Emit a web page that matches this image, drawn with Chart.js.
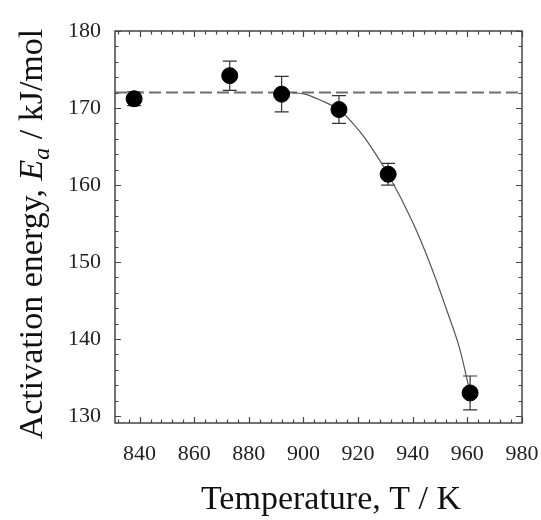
<!DOCTYPE html>
<html>
<head>
<meta charset="utf-8">
<script src="https://cdn.jsdelivr.net/npm/chart.js@4/dist/chart.umd.min.js"></script>
<style>
  html, body { margin: 0; padding: 0; background: #fff; }
  #wrap { width: 541px; height: 520px; }
</style>
</head>
<body>
<div id="wrap"><canvas id="eaChart" width="541" height="520"></canvas></div>
<script>
// measured points
const temps = [838, 873, 892, 913, 931, 961];
const energies = [171.2, 174.2, 171.8, 169.8, 161.4, 133.0];
const errors = [0.9, 1.9, 2.3, 1.8, 1.4, 2.2];

// plateau level (dashed)
const plateauT = [831, 980];
const plateauE = [172, 172];

// fitted curve
const fitT = [896, 900.5, 906.3, 913, 917.6, 922.5, 926.1, 931, 940.2, 946.3, 952.4, 957.3, 961];
const fitE = [172, 171.8, 171.0, 169.8, 168.2, 166.1, 164.2, 161.4, 155.0, 149.8, 143.8, 138.6, 133.0];

// tick labels
const xTicks = [840, 860, 880, 900, 920, 940, 960, 980];
const yTicks = [130, 140, 150, 160, 170, 180];

const serif = '"Liberation Serif", "Times New Roman", serif';
const axisGray = '#444';

const toXY = (xs, ys) => xs.map((x, i) => ({x: x, y: ys[i]}));

// error bars
const errorBars = {
  id: 'errorBars',
  beforeDatasetsDraw(chart) {
    const {ctx, scales: {x, y}} = chart;
    ctx.save();
    ctx.strokeStyle = '#333';
    ctx.lineWidth = 1.2;
    temps.forEach((t, i) => {
      const px = x.getPixelForValue(t);
      const top = y.getPixelForValue(energies[i] + errors[i]);
      const bot = y.getPixelForValue(energies[i] - errors[i]);
      ctx.beginPath();
      ctx.moveTo(px, top); ctx.lineTo(px, bot);
      ctx.moveTo(px - 7, top); ctx.lineTo(px + 7, top);
      ctx.moveTo(px - 7, bot); ctx.lineTo(px + 7, bot);
      ctx.stroke();
    });
    ctx.restore();
  }
};

// frame with inward ticks on every side, plus the axis titles
const frame = {
  id: 'frame',
  afterDraw(chart) {
    const {ctx, chartArea: a, scales: {x, y}} = chart;
    ctx.save();
    ctx.strokeStyle = axisGray;
    ctx.lineWidth = 1.5;
    ctx.strokeRect(a.left, a.top, a.right - a.left, a.bottom - a.top);

    ctx.lineWidth = 1.2;
    ctx.beginPath();
    const xStep = (xTicks[1] - xTicks[0]) / 5;
    for (let v = xTicks[0] - 2 * xStep; v <= xTicks[xTicks.length - 1] + 0.01; v += xStep) {
      if (v < x.min) continue;
      const major = Math.abs(((v - xTicks[0]) / (xStep * 5)) % 1) < 0.01;
      const len = major ? 6 : 3.5;
      const px = Math.round(x.getPixelForValue(v)) + 0.5;
      ctx.moveTo(px, a.bottom); ctx.lineTo(px, a.bottom - len);
      ctx.moveTo(px, a.top); ctx.lineTo(px, a.top + len);
    }
    const yStep = (yTicks[1] - yTicks[0]) / 5;
    for (let v = yTicks[0]; v <= yTicks[yTicks.length - 1] + 0.01; v += yStep) {
      const major = Math.abs(((v - yTicks[0]) / (yStep * 5)) % 1) < 0.01;
      const len = major ? 6 : 3.5;
      const py = Math.round(y.getPixelForValue(v)) + 0.5;
      ctx.moveTo(a.left, py); ctx.lineTo(a.left + len, py);
      ctx.moveTo(a.right, py); ctx.lineTo(a.right - len, py);
    }
    ctx.stroke();

    // x title
    ctx.fillStyle = '#111';
    ctx.font = '34px ' + serif;
    ctx.textAlign = 'center';
    ctx.textBaseline = 'middle';
    ctx.fillText('Temperature, T / K', 331, 500);

    // y title with italic E and subscript a
    const parts = [
      {t: 'Activation energy, ', f: '34px ' + serif, dy: 0},
      {t: 'E', f: 'italic 34px ' + serif, dy: 0},
      {t: 'a', f: 'italic 24px ' + serif, dy: 7},
      {t: ' / kJ/mol', f: '34px ' + serif, dy: 0}
    ];
    let total = 0;
    parts.forEach(p => { ctx.font = p.f; p.w = ctx.measureText(p.t).width; total += p.w; });
    ctx.translate(42, 234);
    ctx.rotate(-Math.PI / 2);
    ctx.textAlign = 'left';
    ctx.textBaseline = 'alphabetic';
    let cx = -total / 2;
    parts.forEach(p => {
      ctx.font = p.f;
      ctx.fillText(p.t, cx, p.dy);
      cx += p.w;
    });
    ctx.restore();
  }
};

const data = {
  datasets: [{
    label: 'Ea',
    data: toXY(temps, energies),
    showLine: false,
    pointRadius: 8,
    pointBackgroundColor: '#000',
    pointBorderColor: '#000',
    order: 0
  }, {
    label: 'plateau',
    data: toXY(plateauT, plateauE),
    showLine: true,
    borderColor: '#6e6e6e',
    borderWidth: 2,
    borderDash: [12, 5],
    pointRadius: 0,
    order: 2
  }, {
    label: 'fit',
    data: toXY(fitT, fitE),
    showLine: true,
    borderColor: '#555',
    borderWidth: 1.2,
    cubicInterpolationMode: 'monotone',
    pointRadius: 0,
    order: 1
  }]
};

const options = {
  type: 'scatter',
  data,
  options: {
    responsive: false,
    animation: false,
    events: [],
    layout: { padding: { left: 0, right: 19, top: 31, bottom: 0 } },
    plugins: {
      legend: { display: false },
      tooltip: { enabled: false }
    },
    scales: {
      x: {
        type: 'linear',
        min: 831,
        max: 980,
        afterBuildTicks: s => { s.ticks = xTicks.map(v => ({value: v})); },
        afterFit: s => { s.height = 97; s.paddingLeft = 0; s.paddingRight = 0; },
        grid: { display: false, drawTicks: false, tickLength: 0 },
        border: { display: false },
        ticks: { padding: 18, color: '#222', font: { family: serif, size: 22 } }
      },
      y: {
        type: 'linear',
        min: 129.1,
        max: 180,
        afterBuildTicks: s => { s.ticks = yTicks.map(v => ({value: v})); },
        afterFit: s => { s.width = 115; s.paddingTop = 0; s.paddingBottom = 0; },
        grid: { display: false, drawTicks: false, tickLength: 0 },
        border: { display: false },
        ticks: { padding: 14, color: '#222', font: { family: serif, size: 22 } }
      }
    }
  },
  plugins: [errorBars, frame]
};

let eaChart = new Chart(document.getElementById('eaChart'), options);
</script>
</body>
</html>
